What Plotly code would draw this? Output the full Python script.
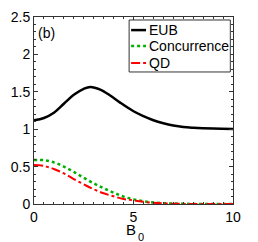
import plotly.graph_objects as go

B0 = [0, 0.5, 1, 1.5, 2, 2.5, 2.83, 3.33, 3.83, 4.33, 5, 5.5, 6, 6.5, 7, 7.5, 8, 9, 10]
EUB = [1.119, 1.15, 1.22, 1.34, 1.46, 1.54, 1.565, 1.53, 1.45, 1.355, 1.24, 1.175, 1.12, 1.08, 1.05, 1.03, 1.02, 1.008, 1.003]

B0_low = [0, 0.5, 1, 1.5, 2, 2.5, 3, 3.5, 4, 4.5, 5, 5.5, 6, 6.5, 7, 7.5, 8, 9, 10]
CONC = [0.588, 0.586, 0.557, 0.50, 0.43, 0.35, 0.276, 0.21, 0.152, 0.098, 0.062, 0.036, 0.02, 0.011, 0.006, 0.003, 0.001, 0.0, 0.0]
QD = [0.52, 0.508, 0.468, 0.41, 0.334, 0.263, 0.196, 0.143, 0.103, 0.067, 0.049, 0.03, 0.016, 0.008, 0.004, 0.002, 0.001, 0.0, 0.0]

names = ["EUB", "Concurrence", "QD"]
colors = ["black", "#00b000", "#ff0000"]
dashes = ["solid", "dot", "dashdot"]
widths = [2.5, 2.5, 2]
xs = [B0, B0_low, B0_low]
series = [EUB, CONC, QD]

fig = go.Figure()
for n, c, d, w, x, s in zip(names, colors, dashes, widths, xs, series):
    fig.add_trace(go.Scatter(x=x, y=s, mode="lines", name=n,
                             line=dict(color=c, dash=d, width=w, shape="spline", smoothing=1.0),
                             showlegend=False))

font = dict(family="Liberation Sans, Arial, sans-serif", size=14, color="black")

# manual legend (paper coordinates)
fig.add_shape(type="rect", xref="paper", yref="paper", x0=0.478, x1=0.9865, y0=0.706, y1=0.984,
              line=dict(color="#333", width=1), fillcolor="white")
rows = [0.930, 0.845, 0.754]
for n, c, d, w, ry in zip(names, colors, dashes, widths, rows):
    fig.add_shape(type="line", xref="paper", yref="paper", x0=0.488, x1=0.563, y0=ry, y1=ry,
                  line=dict(color=c, dash=d, width=w))
    fig.add_annotation(xref="paper", yref="paper", x=0.573, y=ry, text=n, showarrow=False,
                       xanchor="left", yanchor="middle", font=font, borderpad=0)

fig.add_annotation(xref="paper", yref="paper", x=0.012, y=0.915, text="(b)", showarrow=False,
                   xanchor="left", yanchor="middle", font=font)

# x-axis title B_0
fig.add_annotation(xref="paper", yref="paper", x=0.518, y=-0.134, text="B", showarrow=False,
                   xanchor="right", yanchor="middle", font=dict(family=font["family"], size=15, color="black"),
                   borderpad=0)
fig.add_annotation(xref="paper", yref="paper", x=0.518, y=-0.178, text="0", showarrow=False,
                   xanchor="left", yanchor="middle", font=dict(family=font["family"], size=11, color="black"),
                   borderpad=0)

axis_common = dict(showline=True, linecolor="#333", linewidth=1, mirror="ticks", ticks="inside",
                   ticklen=4, tickcolor="#333", showgrid=False, zeroline=False, tickfont=font,
                   automargin=False)
fig.update_xaxes(range=[0, 10], tickvals=[0, 5, 10], ticktext=["0", "5", "10"],
                 minor=dict(ticks="inside", ticklen=2, dtick=0.5, tickcolor="#333"), **axis_common)
fig.update_yaxes(range=[0, 2.5], tickvals=[0, 0.5, 1, 1.5, 2, 2.5], ticktext=["0", "0.5", "1", "1.5", "2", "2.5"],
                 minor=dict(ticks="inside", ticklen=2, dtick=0.1, tickcolor="#333"), **axis_common)

fig.update_layout(width=258, height=242, margin=dict(l=33.5, r=24.7, t=17, b=38, autoexpand=False),
                  plot_bgcolor="white", paper_bgcolor="white", font=font)

fig.write_html("out.html", config={"displayModeBar": False},
               post_script="document.body.style.margin='0';document.body.style.overflow='hidden';")
